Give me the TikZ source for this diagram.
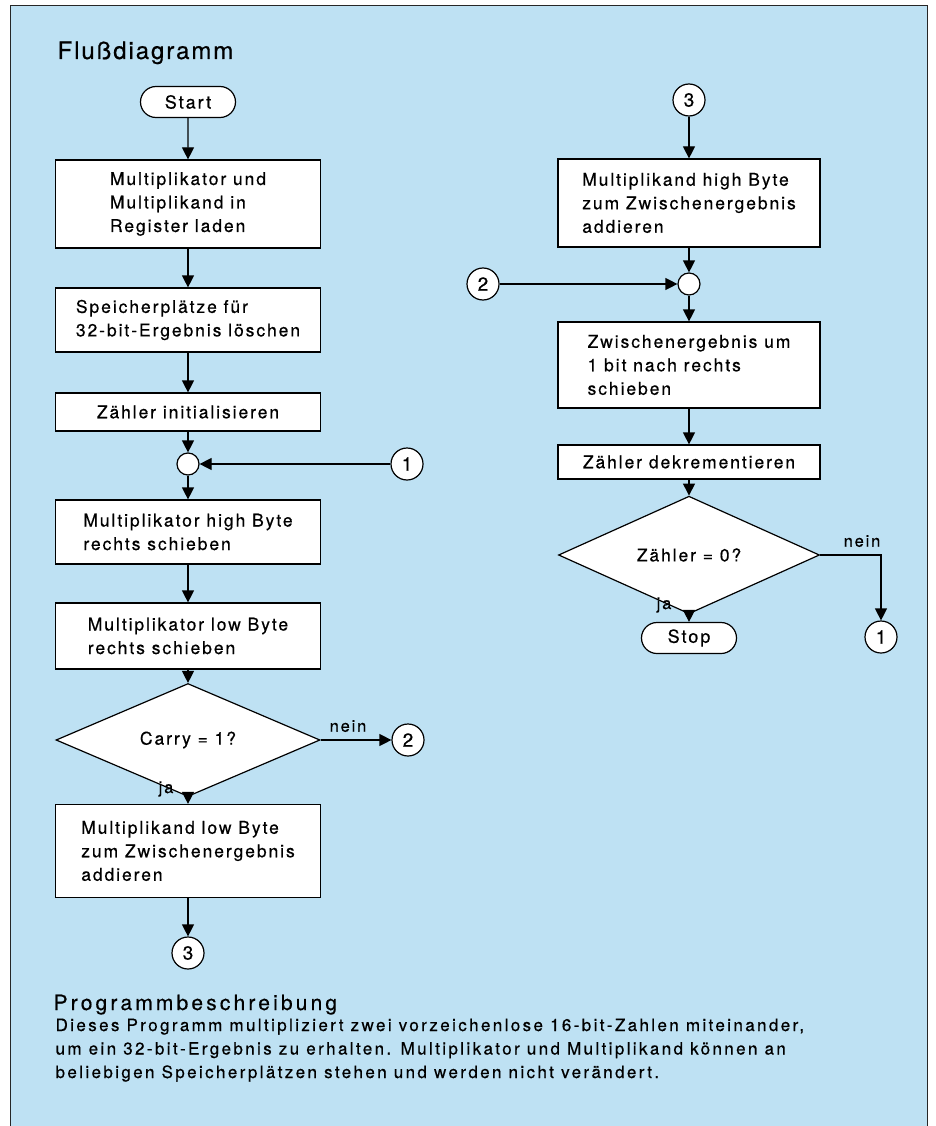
\documentclass[tikz,border=0pt]{standalone}
\usepackage{fontspec}
\setmainfont{TeX Gyre Heros}[LetterSpace=11, FakeBold=0.5]
\usetikzlibrary{arrows.meta,shapes.geometric,shapes.misc}

\definecolor{panelblue}{RGB}{190,225,243}

\tikzset{
  box/.style={draw, fill=white, rectangle, minimum width=265pt, align=left,
    inner sep=0pt, font=\fontsize{17.5}{23.5}\selectfont},
  decision/.style={draw, fill=white, diamond, inner sep=0pt,
    font=\fontsize{17.5}{20}\selectfont},
  term/.style={draw, fill=white, rounded rectangle, minimum width=95pt,
    minimum height=31pt, inner sep=0pt, font=\fontsize{18}{20}\selectfont},
  joint/.style={draw, fill=white, circle, minimum size=22pt, inner sep=0pt},
  conn/.style={draw, fill=white, circle, minimum size=32pt, inner sep=0pt,
    font=\fontsize{19}{20}\selectfont},
  lbl/.style={inner sep=0pt, font=\fontsize{16.5}{18}\selectfont},
  flow/.style={-{Triangle[length=12pt,width=12pt]}}
}

\begin{document}
\begin{tikzpicture}[x=1pt, y=-1pt, line width=1.2pt]

% Page and blue panel
\useasboundingbox (0,0) rectangle (935,1126);
\fill[white] (0,0) rectangle (935,1126);
\fill[panelblue] (10,6) rectangle (927,1140);
\draw[line width=1pt, black!85] (10,1140) -- (10,6) -- (927,6) -- (927,1140);

% Headings
\node[anchor=base west, inner sep=0pt, font=\fontsize{24}{28}\selectfont\addfontfeatures{LetterSpace=8}] (title) at (57,59) {Flußdiagramm};

% Left column
\node[term] (start) at (188,102) {Start};
\node[box, minimum height=88pt] (load) at (188,204) {Multiplikator und\\Multiplikand in\\Register laden};
\node[box, minimum height=64pt] (clear) at (188,320) {Speicherplätze für\\32-bit-Ergebnis löschen};
\node[box, minimum height=38pt] (init) at (188,412) {Zähler initialisieren};
\node[joint] (j1) at (188,464) {};
\node[conn] (c1a) at (407,464) {1};
\node[box, minimum height=64pt] (shhigh) at (188,532) {Multiplikator high Byte\\rechts schieben};
\node[box, minimum height=66pt] (shlow) at (188,636) {Multiplikator low Byte\\rechts schieben};
\node[decision, minimum width=264pt, minimum height=71pt] (carry) at (188,740) {Carry = 1?};
\node[conn] (c2a) at (408,740) {2};
\node[box, minimum height=93pt] (addlow) at (188,851) {Multiplikand low Byte\\zum Zwischenergebnis\\addieren};
\node[conn] (c3a) at (188,953) {3};
\node[lbl] (nein1) at (348,726) {nein};
\node[lbl] (ja1) at (166,789) {ja};

% Right column
\node[conn] (c3b) at (689,100) {3};
\node[box, minimum width=262pt, minimum height=88pt] (addhigh) at (689,203) {Multiplikand high Byte\\zum Zwischenergebnis\\addieren};
\node[joint] (j2) at (689,284) {};
\node[conn] (c2b) at (483,284) {2};
\node[box, minimum width=262pt, minimum height=86pt] (shift) at (689,365) {Zwischenergebnis um\\1 bit nach rechts\\schieben};
\node[box, minimum width=262pt, minimum height=34pt] (dec) at (689,462) {Zähler dekrementieren};
\node[decision, minimum width=261pt, minimum height=69pt] (zero) at (689,555) {Zähler = 0?};
\node[term] (stop) at (689,638) {Stop};
\node[conn] (c1b) at (881,637) {1};
\node[lbl] (nein2) at (862,541) {nein};
\node[lbl] (ja2) at (664,605) {ja};

% Flow lines
\foreach \a\b in {start/load, load/clear, clear/init, init/j1, c1a/j1, j1/shhigh,
    shhigh/shlow, shlow/carry, carry/addlow, carry/c2a, addlow/c3a,
    c3b/addhigh, addhigh/j2, c2b/j2, j2/shift, shift/dec, dec/zero, zero/stop} {
  \draw[flow] (\a) -- (\b);
}
\draw[flow] (zero.east) -| (c1b);

% Description
\node[anchor=base west, inner sep=0pt, font=\fontsize{21}{25}\selectfont\addfontfeatures{LetterSpace=15}] (desctitle) at (53,1010) {Programmbeschreibung};
\node[anchor=base west, inner sep=0pt, align=left, font=\fontsize{17}{23.5}\selectfont\addfontfeatures{LetterSpace=14}] (desc) at (55,1078)
  {Dieses Programm multipliziert zwei vorzeichenlose 16-bit-Zahlen miteinander,\\
   um ein 32-bit-Ergebnis zu erhalten. Multiplikator und Multiplikand können an\\
   beliebigen Speicherplätzen stehen und werden nicht verändert.};

\end{tikzpicture}
\end{document}
